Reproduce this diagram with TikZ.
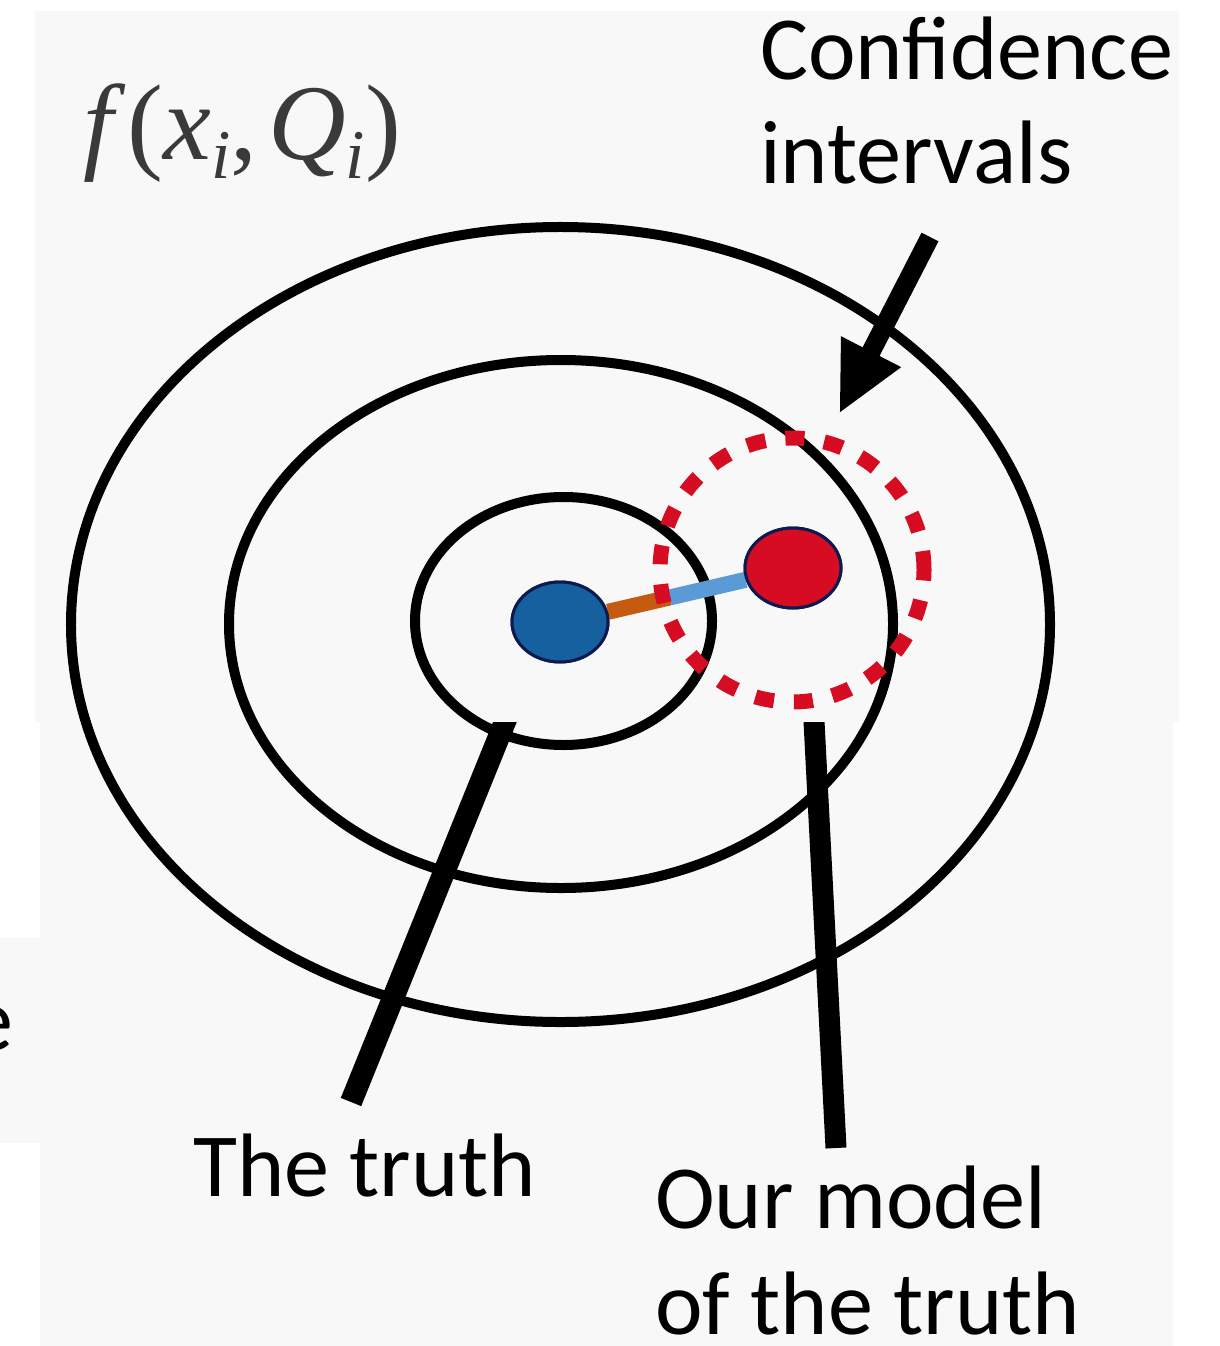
\documentclass[tikz,border=0pt]{standalone}
\usepackage{fontspec}
\setmainfont{Carlito}
\newfontfamily\tms{Liberation Serif}
\usetikzlibrary{shapes.geometric,arrows.meta,calc}
\definecolor{panel}{HTML}{F8F8F8}
\definecolor{dotblue}{HTML}{1760A0}
\definecolor{dotred}{HTML}{D50C22}
\definecolor{navy}{HTML}{0D1A4F}
\definecolor{linkorange}{HTML}{C55A11}
\definecolor{linkblue}{HTML}{5B9BD5}
\definecolor{formula}{HTML}{3A3A3A}
\begin{document}
\begin{tikzpicture}[x=1bp,y=-1bp,
  ring/.style={draw=black, line width=10bp, ellipse, inner sep=0pt, outer sep=0pt},
  dot/.style={ellipse, draw=navy, line width=3bp, minimum width=96bp, minimum height=80bp, inner sep=0pt},
  lbl/.style={font=\fontsize{90.5}{105}\selectfont, inner sep=0pt, anchor=base west, text=black},
  pointer/.style={line width=22bp, black, line cap=butt},
  bigarrow/.style={line width=19bp, black, -{Triangle[length=70bp,width=62bp]}},
  link/.style={line width=16bp, line cap=butt}
]
\useasboundingbox (0,0) rectangle (1219,1346);
\fill[white] (0,0) rectangle (1219,1346);
% background panels
\fill[panel] (35,11) rectangle (1179,722);
\fill[panel] (40,722) rectangle (1173,1346);
\fill[panel] (0,938) rectangle (40,1143);

% rings
\node[ring, minimum width=979bp, minimum height=795bp] (outer) at (560.5,624.5) {};
\node[ring, minimum width=664bp, minimum height=528bp] (middle) at (561,624) {};
\node[ring, minimum width=297bp, minimum height=248bp] (inner) at (563.5,621) {};

% dots
\node[dot, fill=dotblue] (truth) at (560,622) {};
\node[dot, fill=dotred] (model) at (793,568) {};
\coordinate (linkmid) at ($(truth.12)!0.45!(model.194)$);
\draw[link, linkorange] (truth.12) -- (linkmid);
\draw[link, linkblue] (linkmid) -- (model.194);
\node[dot, fill=dotblue] at (truth) {};
\node[dot, fill=dotred] at (model) {};

% confidence interval
\node[circle, draw=dotred, line width=15bp, dash pattern=on 19bp off 20bp,
      minimum size=264bp, inner sep=0pt] (ci) at (792,570) {};

% labels
\node[lbl] (conf1) at (760,80) {Confidence};
\node[lbl] (conf2) at (760,184) {intervals};
\node[lbl] (truthlbl) at (193,1196) {The truth};
\node[lbl] (model1) at (655,1228) {Our model};
\node[lbl] (model2) at (655,1334) {of the truth};
\node[lbl] (cut) at (-32,1050) {e};
\node[anchor=base west, inner sep=0pt, text=formula, font=\tms\fontsize{108}{108}\selectfont] (fx) at (83,160)
  {\textit{f}\kern0.02em(\textit{x}\raisebox{-0.17em}{\fontsize{70}{70}\selectfont\textit{i}},\kern0.1em\textit{Q}\raisebox{-0.17em}{\fontsize{70}{70}\selectfont\textit{i}})};

% arrow to confidence interval
\coordinate (ciTail) at (930,237);
\draw[bigarrow, shorten >=24bp] (ciTail) -- (ci.75);

% pointers
\coordinate (truthFoot) at (351,1102);
\coordinate (truthTop) at (513,702);
\coordinate (modelFoot) at (836,1148);
\coordinate (modelTop) at (813,702);
\begin{scope}
  \clip (0,722) rectangle (1219,1346);
  \draw[pointer] (truthFoot) -- (truthTop);
  \draw[pointer, line width=21bp] (modelFoot) -- (modelTop);
\end{scope}
\end{tikzpicture}
\end{document}
